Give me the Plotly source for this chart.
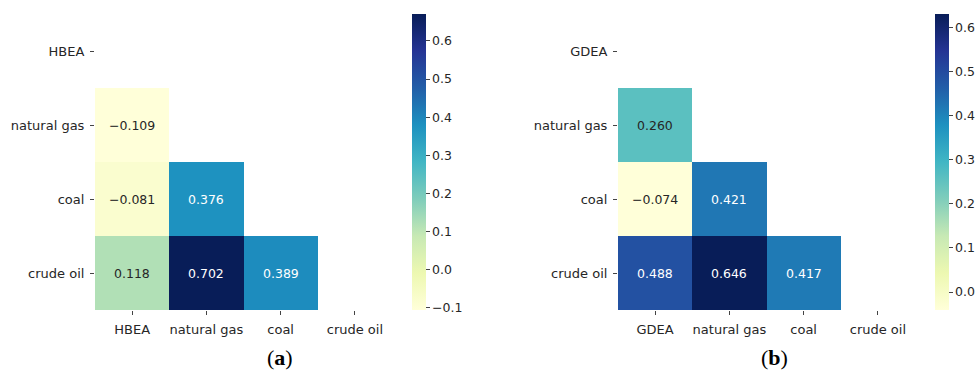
import numpy as np
import plotly.graph_objects as go

# Lower-triangle correlation values (row, column) for each panel
labels_a = ["HBEA", "natural gas", "coal", "crude oil"]
labels_b = ["GDEA", "natural gas", "coal", "crude oil"]
corr_a = [
    [None, None, None, None],
    [-0.109, None, None, None],
    [-0.081, 0.376, None, None],
    [0.118, 0.702, 0.389, None],
]
corr_b = [
    [None, None, None, None],
    [0.260, None, None, None],
    [-0.074, 0.421, None, None],
    [0.488, 0.646, 0.417, None],
]
cbar_ticks_a = [-0.1, 0.0, 0.1, 0.2, 0.3, 0.4, 0.5, 0.6]
cbar_ticks_b = [0.0, 0.1, 0.2, 0.3, 0.4, 0.5, 0.6]

W, H = 976, 385
YLGNBU = ["#ffffd9", "#edf8b1", "#c7e9b4", "#7fcdbb", "#41b6c4",
          "#1d91c0", "#225ea8", "#253494", "#081d58"]
scale = [[i / (len(YLGNBU) - 1), c] for i, c in enumerate(YLGNBU)]


def hex_rgb(h):
    return [int(h[i:i + 2], 16) / 255 for i in (1, 3, 5)]


def color_at(t):
    t = min(max(t, 0), 1) * (len(YLGNBU) - 1)
    i = min(int(t), len(YLGNBU) - 2)
    f = t - i
    a, b = hex_rgb(YLGNBU[i]), hex_rgb(YLGNBU[i + 1])
    return [a[k] + (b[k] - a[k]) * f for k in range(3)]


def luminance(rgb):
    lin = [c / 12.92 if c <= 0.03928 else ((c + 0.055) / 1.055) ** 2.4 for c in rgb]
    return 0.2126 * lin[0] + 0.7152 * lin[1] + 0.0722 * lin[2]


def fmt(v, nd=3):
    return f"{v:.{nd}f}".replace("-", "\u2212")


fig = go.Figure()
annotations = []
tick_font = dict(family="DejaVu Sans", size=12.5, color="#262626")

panels = [
    (labels_a, corr_a, cbar_ticks_a, "x", "y", 412, "(<b>a</b>)", 265),
    (labels_b, corr_b, cbar_ticks_b, "x2", "y2", 935, "(<b>b</b>)", 790),
]
for labels, corr, cticks, xa, ya, cbx, cap, capx in panels:
    vals = np.array([[np.nan if v is None else v for v in row] for row in corr])
    finite = vals[np.isfinite(vals)]
    # robust colour limits from the shown values
    vmin, vmax = np.percentile(finite, 2), np.percentile(finite, 98)
    fig.add_trace(go.Heatmap(
        z=vals, x=labels, y=labels, xaxis=xa, yaxis=ya,
        colorscale=scale, zmin=vmin, zmax=vmax, hoverongaps=False,
        colorbar=dict(
            x=cbx / W, xanchor="left", xpad=0, thickness=14,
            lenmode="pixels", len=296, y=(H - 162) / H, yanchor="middle", ypad=0,
            outlinewidth=0, ticks="outside", ticklen=4, tickcolor="#444",
            tickvals=cticks, ticktext=[fmt(t, 1) for t in cticks],
            tickfont=tick_font,
        ),
    ))
    for i, row in enumerate(corr):
        for j, v in enumerate(row):
            if v is None:
                continue
            t = (v - vmin) / (vmax - vmin)
            col = "#262626" if luminance(color_at(t)) > 0.408 else "white"
            annotations.append(dict(
                x=labels[j], y=labels[i], xref=xa, yref=ya, text=fmt(v),
                showarrow=False, font=dict(family="DejaVu Sans", size=12.5, color=col),
            ))
    annotations.append(dict(
        x=capx / W, y=(H - 372) / H, xref="paper", yref="paper", text=cap,
        showarrow=False, font=dict(family="Liberation Serif", size=22, color="black"),
    ))

axis_common = dict(showgrid=False, zeroline=False, showline=False, ticks="outside",
                   ticklen=4, tickcolor="#444", ticklabelstandoff=3,
                   tickfont=dict(family="DejaVu Sans", size=13, color="#262626"))
ydom = [(H - 310) / H, (H - 14) / H]
fig.update_layout(
    width=W, height=H, margin=dict(l=0, r=0, t=0, b=0),
    paper_bgcolor="white", plot_bgcolor="white",
    xaxis=dict(domain=[95 / W, 392 / W], anchor="y", **axis_common),
    yaxis=dict(domain=ydom, anchor="x", autorange="reversed", **axis_common),
    xaxis2=dict(domain=[618 / W, 915 / W], anchor="y2", **axis_common),
    yaxis2=dict(domain=ydom, anchor="x2", autorange="reversed", **axis_common),
    annotations=annotations,
    showlegend=False,
)

fig.write_html("out.html")
